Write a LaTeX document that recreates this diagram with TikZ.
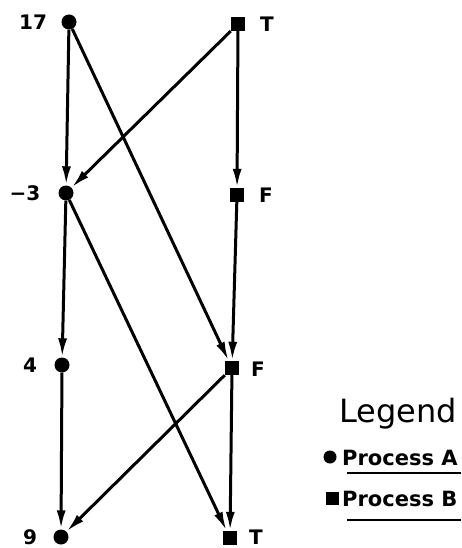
\documentclass[tikz,border=0pt]{standalone}
\usepackage{fontspec}
\setmainfont{DejaVu Sans}
\usetikzlibrary{arrows.meta}
\begin{document}
\begin{tikzpicture}[x=1pt,y=-1pt,
  procA/.style={circle,fill=black,inner sep=0pt,minimum size=15pt},
  procB/.style={rectangle,fill=black,inner sep=0pt,minimum size=14pt},
  lbl/.style={font=\bfseries\fontsize{20}{20}\selectfont,inner sep=0pt},
  edge/.style={line width=3pt,-{Latex[length=19pt,width=9pt]},shorten >=0pt}]
\useasboundingbox (0,0) rectangle (461,548);
% process A
\node[procA] (a1) at (69,22) {};
\node[procA] (a2) at (66,193) {};
\node[procA] (a3) at (62,365) {};
\node[procA] (a4) at (61,537) {};
% process B
\node[procB] (b1) at (238,24) {};
\node[procB] (b2) at (237,195) {};
\node[procB] (b3) at (232,368) {};
\node[procB] (b4) at (230,538) {};
% labels
\node[lbl] (la1) at (33,22) {17};
\node[lbl] (la2) at (25,193) {−3};
\node[lbl] (la3) at (30,365) {4};
\node[lbl] (la4) at (30,537) {9};
\node[lbl] (lb1) at (267,24) {T};
\node[lbl] (lb2) at (266,195) {F};
\node[lbl] (lb3) at (258,369) {F};
\node[lbl] (lb4) at (256,537) {T};
% edges
\draw[edge] (a1) -- (a2);
\draw[edge] (a1) -- (b3);
\draw[edge] (b1) -- (a2);
\draw[edge] (b1) -- (b2);
\draw[edge] (a2) -- (a3);
\draw[edge] (a2) -- (b4);
\draw[edge] (b2) -- (b3);
\draw[edge] (a3) -- (a4);
\draw[edge] (b3) -- (a4);
\draw[edge] (b3) -- (b4);
% legend
\node[font=\fontsize{32}{32}\selectfont,inner sep=0pt,anchor=base west] (leg) at (339,422) {Legend};
\node[procA,minimum size=13pt] (ka) at (330,457) {};
\node[procB,minimum size=13pt] (kb) at (332,498) {};
\node[font=\bfseries\fontsize{21}{21}\selectfont,anchor=base west,inner sep=0pt] (ta) at (342,465) {Process A};
\node[font=\bfseries\fontsize{21}{21}\selectfont,anchor=base west,inner sep=0pt] (tb) at (342,506) {Process B};
\draw[line width=2pt] (347,473) -- (461,473);
\draw[line width=2pt] (347,520) -- (461,520);
\end{tikzpicture}
\end{document}
